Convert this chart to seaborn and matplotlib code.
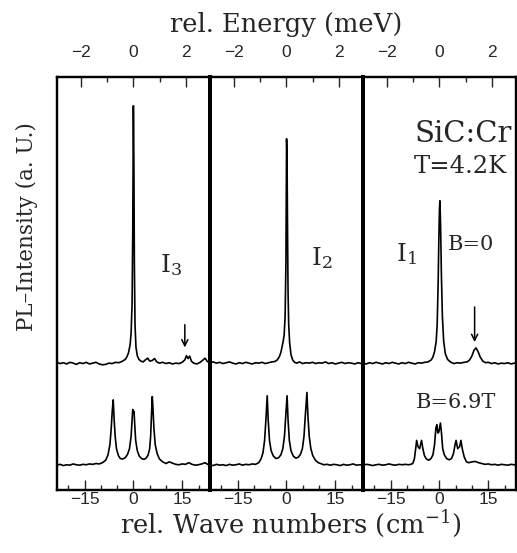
import matplotlib
matplotlib.use("Agg")
import matplotlib.pyplot as plt
import seaborn as sns
import pandas as pd
from matplotlib.ticker import MultipleLocator

# ---------------- data (rel. wave number cm^-1, intensity a.u.) ----------------
panel_names = ["I$_3$", "I$_2$", "I$_1$"]

i3_b0 = [(-23.5, .309), (-22.5, .306), (-21.5, .308), (-20.5, .305), (-19.5, .309), (-18.5, .307),
         (-17.5, .304), (-16.5, .308), (-15.5, .306), (-14.5, .309), (-13.5, .305), (-12.5, .307),
         (-11.5, .309), (-10.5, .305), (-9.5, .303), (-8.5, .304), (-7.5, .307), (-6.5, .306),
         (-5.5, .309), (-4.5, .308), (-3.5, .311), (-2.5, .316), (-2.0, .322), (-1.5, .332),
         (-1.0, .352), (-0.7, .38), (-0.4, .45), (-0.2, .62), (0.0, .93), (0.15, .80), (0.3, .55),
         (0.5, .40), (0.8, .345), (1.2, .325), (1.7, .316), (2.3, .312), (3.0, .310), (3.7, .315),
         (4.4, .319), (5.0, .312), (5.7, .313), (6.5, .318), (7.2, .310), (8.0, .307), (9.0, .309),
         (10.0, .306), (11.0, .308), (12.0, .305), (13.0, .307), (14.0, .306), (15.0, .309),
         (15.8, .315), (16.3, .325), (16.8, .318), (17.3, .324), (17.8, .312), (18.5, .307),
         (19.5, .305), (20.5, .309), (21.3, .314), (22.0, .319), (22.7, .311), (23.5, .308)]

i3_b69 = [(-23.5, .060), (-22.5, .062), (-21.5, .059), (-20.5, .061), (-19.5, .060), (-18.5, .063),
          (-17.5, .061), (-16.5, .060), (-15.5, .062), (-14.5, .061), (-13.5, .063), (-12.5, .062),
          (-11.5, .064), (-10.5, .063), (-9.5, .066), (-8.5, .072), (-7.8, .085), (-7.2, .11),
          (-6.8, .15), (-6.5, .19), (-6.2, .218), (-5.9, .17), (-5.6, .13), (-5.2, .10), (-4.6, .083),
          (-4.0, .076), (-3.3, .075), (-2.5, .078), (-1.8, .086), (-1.2, .10), (-0.7, .13),
          (-0.4, .17), (-0.2, .195), (0.0, .186), (0.2, .19), (0.4, .16), (0.7, .12), (1.2, .095),
          (1.8, .082), (2.5, .076), (3.2, .074), (3.9, .077), (4.5, .084), (5.0, .10), (5.3, .13),
          (5.6, .19), (5.8, .226), (6.0, .20), (6.3, .15), (6.7, .11), (7.3, .088), (8.0, .075),
          (9.0, .068), (10.0, .064), (11.0, .068), (12.0, .065), (13.0, .062), (14.0, .061),
          (15.0, .063), (16.0, .062), (17.0, .066), (18.0, .062), (19.0, .060), (20.0, .061),
          (21.0, .063), (22.0, .066), (23.0, .061), (23.5, .060)]

i2_b0 = [(-23.5, .308), (-22.5, .310), (-21.5, .307), (-20.5, .309), (-19.5, .306), (-18.5, .308),
         (-17.5, .310), (-16.5, .307), (-15.5, .305), (-14.5, .308), (-13.5, .306), (-12.5, .309),
         (-11.5, .307), (-10.5, .305), (-9.5, .308), (-8.5, .307), (-7.5, .309), (-6.5, .306),
         (-5.5, .308), (-4.5, .310), (-3.5, .311), (-2.8, .315), (-2.2, .322), (-1.7, .333),
         (-1.3, .348), (-1.0, .360), (-0.7, .375), (-0.4, .42), (-0.15, .55), (0.05, .85),
         (0.2, .80), (0.35, .62), (0.5, .48), (0.7, .40), (1.0, .355), (1.4, .328), (1.9, .315),
         (2.5, .309), (3.2, .307), (4.0, .310), (5.0, .306), (6.0, .308), (7.0, .307), (8.0, .309),
         (9.0, .306), (10.0, .308), (11.0, .307), (12.0, .310), (13.0, .306), (14.0, .308),
         (15.0, .305), (16.0, .307), (17.0, .309), (18.0, .306), (19.0, .308), (20.0, .307),
         (21.0, .305), (22.0, .308), (23.0, .306), (23.5, .307)]

i2_b69 = [(-23.5, .061), (-22.5, .059), (-21.5, .062), (-20.5, .060), (-19.5, .061), (-18.5, .059),
          (-17.5, .062), (-16.5, .060), (-15.5, .061), (-14.5, .063), (-13.5, .060), (-12.5, .062),
          (-11.5, .061), (-10.5, .063), (-9.5, .062), (-8.5, .066), (-7.8, .075), (-7.2, .09),
          (-6.7, .12), (-6.3, .17), (-5.9, .228), (-5.6, .17), (-5.2, .12), (-4.7, .095),
          (-4.0, .082), (-3.2, .076), (-2.4, .078), (-1.7, .085), (-1.1, .10), (-0.6, .13),
          (-0.2, .18), (0.2, .228), (0.5, .17), (0.9, .12), (1.4, .095), (2.1, .082), (2.9, .077),
          (3.6, .079), (4.3, .086), (4.9, .10), (5.4, .13), (5.8, .18), (6.3, .236), (6.6, .18),
          (7.0, .13), (7.5, .10), (8.1, .083), (8.9, .072), (9.8, .066), (10.8, .063), (11.5, .061),
          (12.5, .062), (13.5, .060), (14.5, .062), (15.5, .061), (16.5, .059), (17.5, .062),
          (18.5, .060), (19.5, .061), (20.5, .063), (21.5, .060), (22.5, .061), (23.5, .060)]

i1_b0 = [(-23.5, .307), (-22.5, .305), (-21.5, .308), (-20.5, .306), (-19.5, .309), (-18.5, .307),
         (-17.5, .305), (-16.5, .308), (-15.5, .306), (-14.5, .309), (-13.5, .307), (-12.5, .305),
         (-11.5, .308), (-10.5, .306), (-9.5, .309), (-8.5, .307), (-7.5, .305), (-6.5, .308),
         (-5.5, .307), (-4.5, .309), (-3.5, .310), (-2.5, .315), (-2.0, .322), (-1.5, .335),
         (-1.0, .36), (-0.7, .40), (-0.4, .50), (-0.2, .60), (0.0, .68), (0.15, .70), (0.35, .64),
         (0.6, .52), (0.9, .42), (1.3, .36), (1.8, .33), (2.5, .316), (3.5, .309), (4.5, .306),
         (5.5, .308), (6.5, .307), (7.5, .309), (8.5, .310), (9.3, .315), (10.0, .325),
         (10.6, .338), (11.2, .344), (11.8, .336), (12.5, .322), (13.3, .312), (14.2, .308),
         (15.0, .309), (16.0, .306), (17.0, .308), (18.0, .305), (19.0, .307), (20.0, .306),
         (21.0, .308), (22.0, .305), (23.0, .307), (23.5, .306)]

i1_b69 = [(-23.5, .060), (-22.5, .062), (-21.5, .061), (-20.5, .059), (-19.5, .061), (-18.5, .062),
          (-17.5, .060), (-16.5, .061), (-15.5, .063), (-14.5, .061), (-13.5, .060), (-12.5, .062),
          (-11.5, .061), (-10.5, .062), (-9.5, .061), (-8.8, .062), (-8.2, .064), (-7.7, .075),
          (-7.3, .10), (-7.0, .12), (-6.6, .105), (-6.1, .10), (-5.5, .12), (-5.1, .10),
          (-4.6, .083), (-4.0, .075), (-3.3, .072), (-2.6, .076), (-2.0, .085), (-1.5, .11),
          (-1.1, .15), (-0.8, .158), (-0.5, .138), (-0.2, .14), (0.3, .162), (0.6, .14),
          (1.0, .10), (1.5, .085), (2.2, .076), (3.0, .073), (3.7, .076), (4.3, .088), (4.8, .11),
          (5.1, .12), (5.6, .10), (6.2, .105), (6.6, .12), (7.0, .10), (7.6, .08), (8.3, .068),
          (9.0, .066), (10.0, .068), (11.0, .069), (12.0, .066), (13.0, .064), (14.0, .062),
          (15.0, .063), (16.0, .061), (17.0, .062), (18.0, .060), (19.0, .062), (20.0, .061),
          (21.0, .060), (22.0, .062), (23.0, .061), (23.5, .059)]

spectra_b0 = [i3_b0, i2_b0, i1_b0]
spectra_b69 = [i3_b69, i2_b69, i1_b69]
arrow_pos = [15.8, None, 10.8]          # cm^-1 position of the arrows (I3, I1)
CM_PER_MEV = 8.0655
WN_LIM = 23.5

# ---------------- style ----------------
sns.set_style("ticks")
plt.rcParams["font.family"] = ["Liberation Sans", "DejaVu Sans"]   # tick labels
plt.rcParams["mathtext.fontset"] = "dejavuserif"
SERIF = "DejaVu Serif"

fig, axes = plt.subplots(1, 3, figsize=(5.17, 5.53), dpi=100, sharey=True)
fig.subplots_adjust(left=0.110, right=0.998, bottom=0.114, top=0.861, wspace=0)

for i, ax in enumerate(axes):
    for spec in (spectra_b0[i], spectra_b69[i]):
        df = pd.DataFrame(spec, columns=["wn", "I"])
        sns.lineplot(data=df, x="wn", y="I", ax=ax, color="black", lw=1.2,
                     sort=False, estimator=None, legend=False)
    ax.set_xlim(-WN_LIM, WN_LIM)
    ax.set_ylim(0, 1)
    ax.set_xlabel("")
    ax.set_ylabel("")
    ax.set_yticks([])
    ax.xaxis.set_major_locator(MultipleLocator(15))
    ax.xaxis.set_minor_locator(MultipleLocator(5))
    ax.tick_params(axis="x", which="major", direction="in", length=7.5, width=1.0,
                   labelsize=12.5, pad=1.5, top=False)
    ax.tick_params(axis="x", which="minor", direction="in", length=3.6, width=1.0, top=False)
    ax.tick_params(axis="y", left=False, right=False)

    # top axis: relative energy in meV
    tw = ax.twiny()
    tw.set_xlim(-WN_LIM / CM_PER_MEV, WN_LIM / CM_PER_MEV)
    tw.xaxis.set_major_locator(MultipleLocator(2))
    tw.xaxis.set_minor_locator(MultipleLocator(1))
    tw.tick_params(axis="x", which="major", direction="in", length=7.5, width=1.0,
                   labelsize=12.5, pad=12,
                   top=True, bottom=False, labeltop=True, labelbottom=False)
    tw.tick_params(axis="x", which="minor", direction="in", length=3.6, width=1.0,
                   top=True, bottom=False)
    tw.tick_params(axis="y", left=False, right=False, labelleft=False, labelright=False)

    for a in (ax, tw):
        for s in a.spines.values():
            s.set_visible(True)
            s.set_linewidth(1.6)
            s.set_color("black")
        if i < 2:
            a.spines["right"].set_linewidth(2.6)
        if i > 0:
            a.spines["left"].set_linewidth(2.6)

    if arrow_pos[i] is not None:
        top = 0.40 if i == 0 else 0.443
        tip = 0.345 if i == 0 else 0.358
        ax.annotate("", xy=(arrow_pos[i], tip), xytext=(arrow_pos[i], top),
                    arrowprops=dict(arrowstyle="->", lw=1.1, color="black",
                                    mutation_scale=11, shrinkA=0, shrinkB=0))

# panel labels
axes[0].text(8.3, 0.528, panel_names[0], fontsize=18, ha="left", va="baseline", family=SERIF)
axes[1].text(7.4, 0.545, panel_names[1], fontsize=18, ha="left", va="baseline", family=SERIF)
axes[2].text(-13.4, 0.553, panel_names[2], fontsize=18, ha="left", va="baseline", family=SERIF)

axes[2].text(22.3, 0.843, "SiC:Cr", fontsize=21, ha="right", va="baseline", family=SERIF)
axes[2].text(20.8, 0.767, "T=4.2K", fontsize=17.5, ha="right", va="baseline", family=SERIF)
axes[2].text(2.5, 0.581, "B=0", fontsize=15, ha="left", va="baseline", family=SERIF)
axes[2].text(-7.3, 0.198, "B=6.9T", fontsize=15, ha="left", va="baseline", family=SERIF)

fig.text(0.553, 0.955, "rel. Energy (meV)", fontsize=18.5, ha="center", va="center",
         family=SERIF)
fig.text(0.562, 0.054, "rel. Wave numbers (cm$^{-1}$)", fontsize=18.5, ha="center",
         va="center", family=SERIF)
fig.text(0.052, 0.59, "PL–Intensity (a. U.)", fontsize=15.5, ha="center", va="center",
         rotation=90, family=SERIF)

fig.savefig("out.png", dpi=100)
